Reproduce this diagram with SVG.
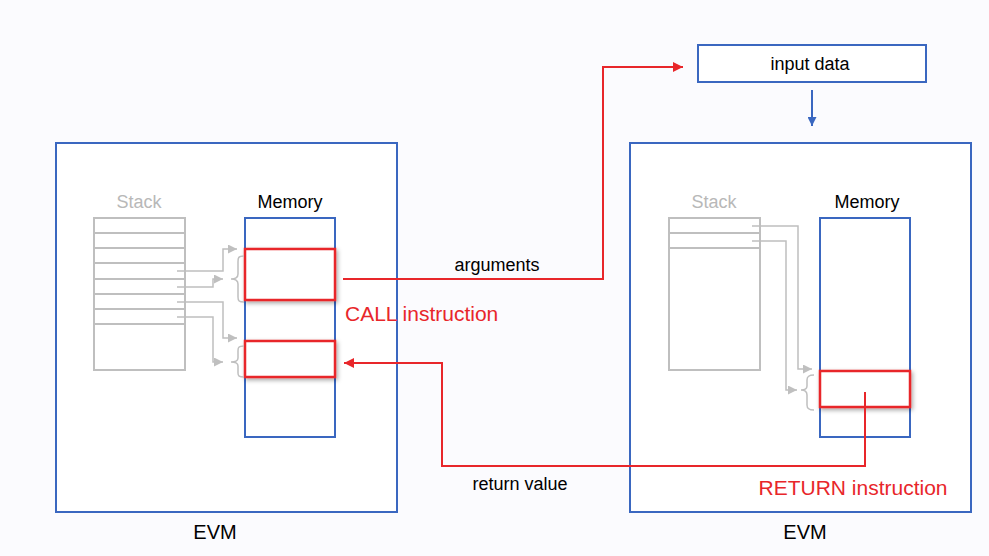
<svg xmlns="http://www.w3.org/2000/svg" width="989" height="556" viewBox="0 0 989 556">
<defs>
<style>
.evm{fill:#fff;stroke:#3a67c0;stroke-width:2}
.mem{fill:#fff;stroke:#3a67c0;stroke-width:2}
.stk{fill:#fff;stroke:#bfbfbf;stroke-width:2}
.row{stroke:#bfbfbf;stroke-width:2}
.g{fill:none;stroke:#bfbfbf;stroke-width:1.5}
.red{fill:none;stroke:#e8262a;stroke-width:2}
.rbox{fill:#fff;stroke:#e8262a;stroke-width:2.5}
.t{font-family:"Liberation Sans",Arial,sans-serif;fill:#000}
.gt{font-family:"Liberation Sans",Arial,sans-serif;fill:#b8b8b8}
.rt{font-family:"Liberation Sans",Arial,sans-serif;fill:#e8262a}
</style>
<marker id="ga" viewBox="0 0 10 10" refX="10" refY="5" markerWidth="9" markerHeight="9" markerUnits="userSpaceOnUse" orient="auto"><path d="M0,0L10,5L0,10z" fill="#bfbfbf"/></marker>
<marker id="ra" viewBox="0 0 10 10" refX="10" refY="5" markerWidth="10" markerHeight="10" markerUnits="userSpaceOnUse" orient="auto"><path d="M0,0L10,5L0,10z" fill="#e8262a"/></marker>
<marker id="ba" viewBox="0 0 10 10" refX="10" refY="5" markerWidth="9" markerHeight="9" markerUnits="userSpaceOnUse" orient="auto"><path d="M0,0L10,5L0,10z" fill="#3a67c0"/></marker>
<filter id="sh" x="-20%" y="-20%" width="140%" height="150%"><feDropShadow dx="1.5" dy="2" stdDeviation="2" flood-color="#000" flood-opacity="0.35"/></filter>
</defs>
<rect x="0" y="0" width="989" height="556" fill="#fbfbfe"/>

<g id="evm-left">
<rect class="evm" x="56" y="143" width="341" height="369"/>
<text class="t" x="215" y="539" font-size="20" text-anchor="middle">EVM</text>
</g>
<g id="evm-right">
<rect class="evm" x="630" y="143" width="341" height="369"/>
<text class="t" x="805" y="539" font-size="20" text-anchor="middle">EVM</text>
</g>

<g id="stack-left">
<text class="gt" x="139" y="208" font-size="18" text-anchor="middle">Stack</text>
<rect class="stk" x="94" y="218" width="91" height="152"/>
<path class="row" d="M94,233H185M94,248H185M94,263H185M94,279H185M94,294H185M94,309H185M94,324H185"/>
</g>
<g id="memory-left">
<text class="t" x="290" y="208" font-size="18" text-anchor="middle">Memory</text>
<rect class="mem" x="245" y="218" width="90" height="219"/>
</g>
<g id="call-args-box">
<rect class="rbox" x="245" y="249" width="90" height="51" filter="url(#sh)"/>
</g>
<g id="call-ret-box">
<rect class="rbox" x="245" y="341" width="90" height="36" filter="url(#sh)"/>
</g>

<g id="stack-right">
<text class="gt" x="714" y="208" font-size="18" text-anchor="middle">Stack</text>
<rect class="stk" x="669" y="218" width="91" height="152"/>
<path class="row" d="M669,233H760M669,248H760"/>
</g>
<g id="memory-right">
<text class="t" x="867" y="208" font-size="18" text-anchor="middle">Memory</text>
<rect class="mem" x="820" y="218" width="90" height="219"/>
</g>
<g id="return-box">
<rect class="rbox" x="820" y="371" width="90" height="36" filter="url(#sh)"/>
</g>

<g id="input-data">
<rect x="698" y="45" width="228" height="37" fill="#fff" stroke="#3a67c0" stroke-width="2"/>
<text class="t" x="810" y="70" font-size="18" text-anchor="middle">input data</text>
</g>

<g id="connectors">
<path class="g" d="M177,271H223V249H237" marker-end="url(#ga)"/>
<path class="g" d="M177,287H213V279H223" marker-end="url(#ga)"/>
<path class="g" d="M177,302H223V338H237" marker-end="url(#ga)"/>
<path class="g" d="M177,317H213V362H223" marker-end="url(#ga)"/>
<path class="g" d="M244,256C238,256 238,258 238,262V274C238,277 236,279 231,279C236,279 238,281 238,284V297C238,301 239,302 244,302"/>
<path class="g" d="M244,346C238,346 238,348 238,351V358C238,360 236,362 231,362C236,362 238,364 238,366V373C238,376 239,377 244,377"/>
<path class="g" d="M752,226H798V369H812" marker-end="url(#ga)"/>
<path class="g" d="M752,241H786V390H797" marker-end="url(#ga)"/>
<path class="g" d="M814,375C808,375 807,377 807,380V386C807,389 805,390 801,390C805,390 807,392 807,395V405C807,408 808,410 814,410"/>
<path class="red" d="M343,279H603V67H683" marker-end="url(#ra)"/>
<path class="red" d="M865,392V466H442V363H344" marker-end="url(#ra)"/>
<path d="M812,90V126" fill="none" stroke="#3a67c0" stroke-width="2" marker-end="url(#ba)"/>
<text class="t" x="497" y="271" font-size="18" text-anchor="middle">arguments</text>
<text class="rt" x="345" y="321" font-size="21">CALL instruction</text>
<text class="t" x="520" y="490" font-size="18" text-anchor="middle">return value</text>
<text class="rt" x="853" y="495" font-size="21" text-anchor="middle">RETURN instruction</text>
</g>
</svg>
